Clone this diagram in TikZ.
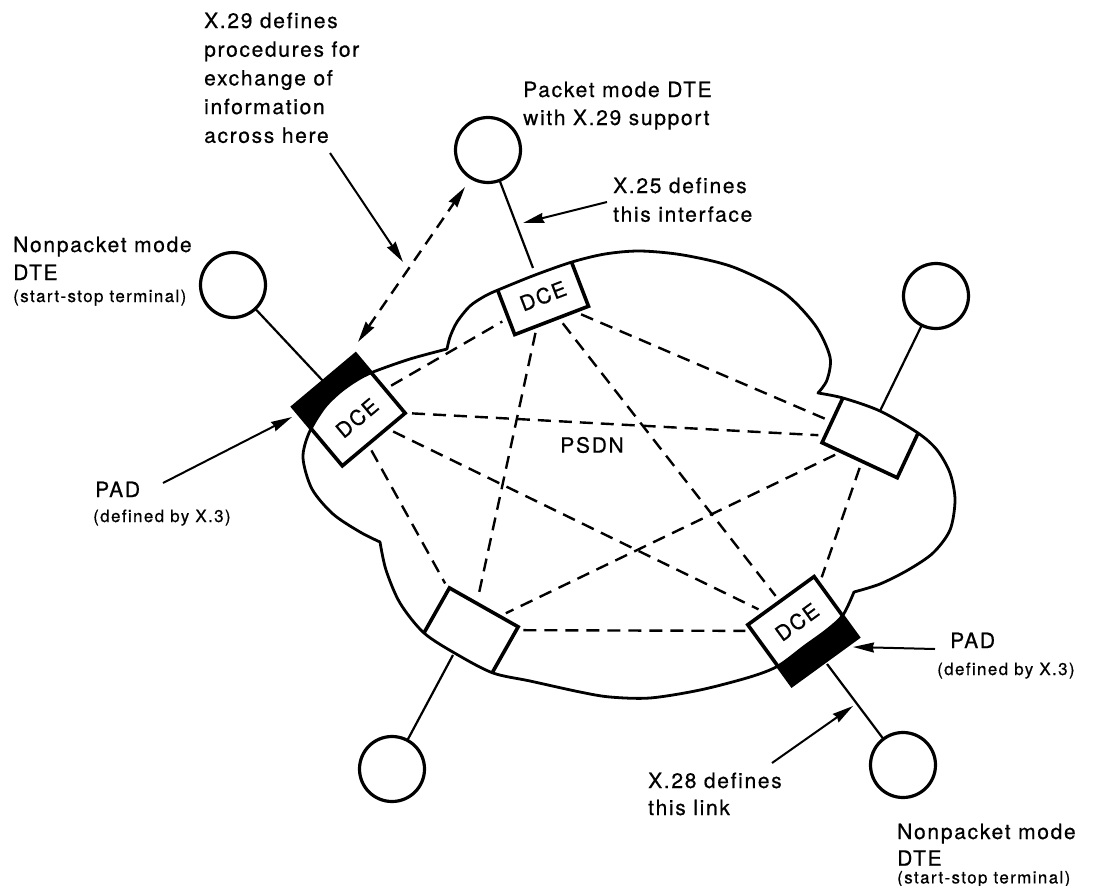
\documentclass[tikz,border=0pt]{standalone}
\usepackage{fontspec}
\setmainfont{TeX Gyre Heros}[LetterSpace=8,Ligatures=NoCommon,FakeBold=0.6]
\usetikzlibrary{arrows.meta,calc}
\begin{document}
\begin{tikzpicture}[x=1pt,y=-1pt,
  dte/.style={circle,draw,line width=3.2pt,minimum size=65pt,inner sep=0pt,outer sep=0pt},
  realbox/.style={rectangle,outer sep=0pt,inner sep=0pt},
  boxline/.style={line width=3.6pt,line join=miter},
  cloudline/.style={line width=2.8pt,line join=round},
  link/.style={line width=2.2pt},
  mesh/.style={line width=2.4pt,dash pattern=on 13pt off 8pt,shorten >=7pt,shorten <=7pt},
  callout/.style={line width=2pt,-{Stealth[length=21pt,width=10pt,inset=1.5pt]}},
  twoway/.style={line width=2.4pt,dash pattern=on 12pt off 8pt,{Stealth[length=21pt,width=10pt,inset=1.5pt]}-{Stealth[length=21pt,width=10pt,inset=1.5pt]}},
  lbl/.style={inner sep=0pt,anchor=base west,font=\fontsize{21}{28.7}\selectfont},
  dcetext/.style={inner sep=0pt,font=\fontsize{21}{24}\selectfont}
]
\useasboundingbox (0,0) rectangle (1098,886);
\def\cloudpath{plot[smooth] coordinates {(380,542) (360,532) (333,514) (312,489) (303,458) (309,433) (324,408) (340,392) (357,380) (373,372) (410,359) (447,349)}
 -- plot[smooth] coordinates {(447,349) (450,337) (457,322) (470,306) (485,296) (498,290) (535,275) (572,262) (605,254) (640,251) (683,255) (733,267) (783,292) (815,325) (830,357) (827,380) (818,393)}
 -- plot[smooth] coordinates {(818,393) (843,398) (880,411) (918,433) (937,450) (950,473) (955,500) (950,530) (933,553) (908,570) (880,584) (854,592)}
 -- plot[smooth] coordinates {(854,592) (843,615) (827,630) (805,646) (778,666) (750,677) (700,690) (650,698) (610,697) (580,692) (530,681) (493,673) (458,655) (424,633) (400,603) (386,570) (380,542)}
 -- cycle}

% DTE circles
\node[dte] (CT) at (488,150) {};
\node[dte] (CL) at (233,285) {};
\node[dte] (CR) at (936,296) {};
\node[dte] (CBL) at (392,769) {};
\node[dte] (CBR) at (903,765) {};

% boxes (geometry)
\node[realbox,rotate=40,minimum width=82pt,minimum height=77pt] (L) at (349,410) {};
\node[realbox,rotate=21,minimum width=79pt,minimum height=48pt] (T) at (543,298) {};
\node[realbox,rotate=-25,minimum width=83pt,minimum height=49pt] (R) at (870,438) {};
\node[realbox,rotate=-29.5,minimum width=79pt,minimum height=52pt] (BL) at (471,630) {};
\node[realbox,rotate=36,minimum width=82pt,minimum height=75pt] (BR) at (803,631) {};

% links DTE - DCE
\coordinate (tT) at (533,268);
\coordinate (tL) at (323,381);
\coordinate (tR) at (880,411);
\coordinate (tBL) at (453,655);
\coordinate (tBR) at (827,664);
\draw[link] (CT) -- (tT);
\draw[link] (CL) -- (tL);
\draw[link] (CR) -- (tR);
\draw[link] (CBL) -- (tBL);
\draw[link] (CBR) -- (tBR);

% PAD boxes: black outside the cloud
\fill (L.north west) -- (L.north east) -- (L.south east) -- (L.south west) -- cycle;
\fill (BR.north west) -- (BR.north east) -- (BR.south east) -- (BR.south west) -- cycle;
\begin{scope}
  \clip \cloudpath;
  \fill[white] (L.north west) -- (L.north east) -- (L.south east) -- (L.south west) -- cycle;
  \fill[white] (BR.north west) -- (BR.north east) -- (BR.south east) -- (BR.south west) -- cycle;
  \draw[boxline,fill=white] ($(T.north west)!-14pt!(T.south west)$) -- (T.south west) -- (T.south east) -- ($(T.north east)!-14pt!(T.south east)$) -- cycle;
  \draw[boxline,fill=white] ($(R.north west)!-14pt!(R.south west)$) -- (R.south west) -- (R.south east) -- ($(R.north east)!-14pt!(R.south east)$) -- cycle;
  \draw[boxline,fill=white] ($(BL.south west)!-14pt!(BL.north west)$) -- (BL.north west) -- (BL.north east) -- ($(BL.south east)!-14pt!(BL.north east)$) -- cycle;
\end{scope}
\draw[boxline] (L.north west) -- (L.north east) -- (L.south east) -- (L.south west) -- cycle;
\draw[boxline] (BR.north west) -- (BR.north east) -- (BR.south east) -- (BR.south west) -- cycle;

% cloud outline
\draw[cloudline] \cloudpath;

% DCE labels
\node[dcetext,rotate=40] (dL) at (357,418) {DCE};
\node[dcetext,rotate=21] (dT) at (543,296) {DCE};
\node[dcetext,rotate=36] (dBR) at (797,622) {DCE};
\node[dcetext] (psdn) at (592,445) {PSDN};

% virtual circuits
\foreach \a/\b in {L/T,L/R,L/BL,L/BR,T/R,T/BL,T/BR,R/BL,R/BR,BL/BR}
  \draw[mesh] (\a) -- (\b);

% labels
\node[lbl] (x29) at (204,28) {\begin{tabular}[t]{@{}l@{}}X.29 defines\\procedures for\\exchange of\\information\\across here\end{tabular}};
\node[lbl] (pm) at (523,97) {\begin{tabular}[t]{@{}l@{}}Packet mode DTE\\[-0.7pt]with X.29 support\end{tabular}};
\node[lbl] (x25) at (613,193) {\begin{tabular}[t]{@{}l@{}}X.25 defines\\this interface\end{tabular}};
\node[lbl] (npL) at (13,252) {\begin{tabular}[t]{@{}l@{}}Nonpacket mode\\[-0.7pt]DTE\\[-6.7pt]{\fontsize{17}{20}\selectfont(start-stop terminal)}\end{tabular}};
\node[lbl] (padL) at (95,497) {\begin{tabular}[t]{@{}l@{}}PAD\\[-3.7pt]\hspace*{-2pt}{\fontsize{17}{20}\selectfont(defined by X.3)}\end{tabular}};
\node[lbl] (padR) at (950,648) {\begin{tabular}[t]{@{}l@{}}PAD\\[-1.7pt]\hspace*{-13pt}{\fontsize{17}{20}\selectfont(defined by X.3)}\end{tabular}};
\node[lbl] (x28) at (648,788) {\begin{tabular}[t]{@{}l@{}}X.28 defines\\[-1.7pt]this link\end{tabular}};
\node[lbl] (npR) at (897,839) {\begin{tabular}[t]{@{}l@{}}Nonpacket mode\\[-2pt]DTE\\[-11pt]{\fontsize{17}{20}\selectfont(start-stop terminal)}\end{tabular}};

% callout arrows
\coordinate (a29s) at (330,153); \coordinate (a29e) at (403,262);
\coordinate (a25s) at (607,202); \coordinate (a25e) at (523,223);
\coordinate (apLs) at (163,483); \coordinate (apLe) at (292,417);
\coordinate (apRs) at (935,649); \coordinate (apRe) at (853,647);
\coordinate (a28s) at (772,763); \coordinate (a28e) at (853,706);
\coordinate (dws) at (358,342); \coordinate (dwe) at (465,187);
\draw[callout] (a29s) -- (a29e);
\draw[callout] (a25s) -- (a25e);
\draw[callout] (apLs) -- (apLe);
\draw[callout] (apRs) -- (apRe);
\draw[callout] (a28s) -- (a28e);
\draw[twoway] (dws) -- (dwe);
\end{tikzpicture}
\end{document}
